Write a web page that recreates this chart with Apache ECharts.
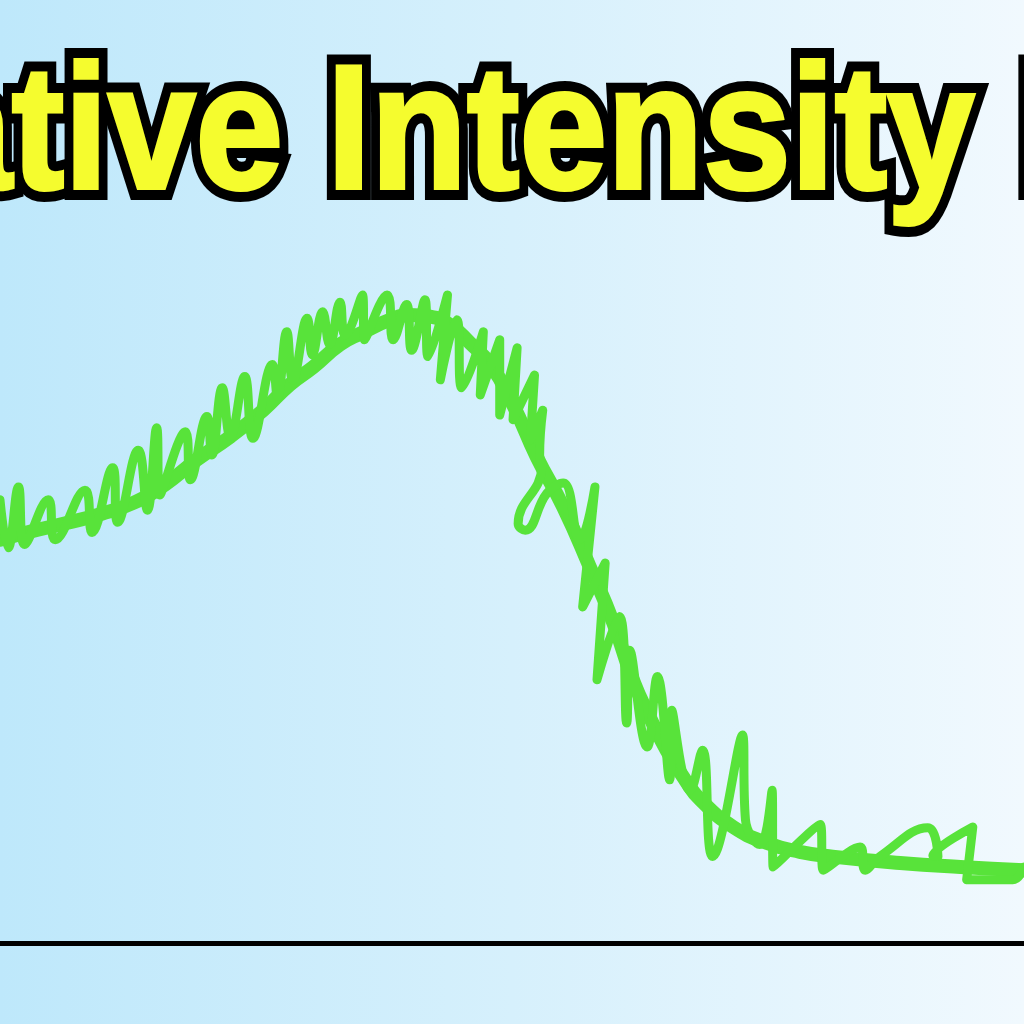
<!DOCTYPE html>
<html>
<head>
<meta charset="utf-8">
<script src="https://cdn.jsdelivr.net/npm/echarts@6/dist/echarts.min.js"></script>
<style>html,body{margin:0;padding:0;}#c{width:1024px;height:1024px;}</style>
</head>
<body>
<div id="c"></div>
<script>
// Title (clipped at both edges in the reference)
const titleText = 'Relative Intensity Map';

// Smooth trend curve: [position, relative intensity]
const trendX = [0, 2.9, 6.5, 9.8, 13.0, 16.1, 19.2, 22.5, 25.7, 28.3, 30.6, 33.2, 35.4, 38.1, 40.0, 42.0, 43.9, 45.9, 47.9, 50.1, 52.4, 55.0, 57.6, 59.9, 61.8, 63.5, 65.1, 66.9, 68.4, 71.6, 74.9, 78.1, 81.3, 87.9, 93.8, 100];
const trendY = [50.4, 51.4, 52.5, 53.6, 55.0, 57.3, 60.4, 63.3, 66.6, 69.8, 72.0, 74.8, 76.3, 77.9, 78.5, 78.3, 77.3, 75.0, 72.3, 67.3, 60.8, 54.5, 47.0, 40.0, 32.9, 28.1, 24.1, 20.4, 17.9, 14.5, 12.5, 11.4, 10.8, 10.0, 9.5, 9.1];

// Noisy hand-drawn measurement trace
const noisyX = [0, 0.8, 1.8, 2.4, 4.7, 5.4, 8.3, 9.0, 11.0, 11.5, 13.5, 14.4, 15.3, 15.6, 18.1, 18.6, 20.2, 20.7, 21.7, 22.5, 23.9, 24.7, 26.6, 27.1, 28.0, 28.6, 30.0, 30.5, 31.5, 32.2, 33.2, 33.7, 35.4, 35.6, 37.8, 38.4, 39.7, 40.2, 41.5, 41.8, 43.7, 43.0, 44.6, 45.1, 47.2, 46.9, 48.8, 48.8, 50.5, 50.1, 52.2, 51.8, 53.0, 52.7, 52.9, 50.6, 51.3, 53.4, 55.0, 56.6, 58.1, 56.9, 59.1, 58.3, 60.5, 61.2, 61.5, 63.2, 64.2, 65.4, 65.6, 67.4, 68.6, 69.6, 72.5, 72.8, 74.2, 75.4, 75.5, 80.1, 80.4, 84.0, 84.5, 85.9, 90.6, 91.6, 91.1, 95.0, 94.4, 98.9, 100];
const noisyY = [55.4, 49.4, 57.0, 49.8, 55.4, 50.4, 56.6, 51.3, 59.4, 52.6, 61.6, 54.1, 64.4, 56.0, 63.9, 57.9, 65.8, 61.0, 69.4, 63.3, 70.8, 63.1, 72.3, 68.3, 76.4, 70.4, 78.1, 73.5, 78.9, 74.8, 80.1, 76.0, 81.0, 75.4, 81.0, 75.4, 79.8, 74.1, 80.4, 73.3, 81.0, 70.4, 77.9, 69.4, 76.4, 68.5, 75.4, 66.0, 74.4, 65.4, 71.0, 62.9, 66.6, 61.0, 59.5, 52.4, 51.6, 56.2, 57.5, 50.4, 57.0, 42.0, 47.5, 32.9, 40.8, 27.5, 36.6, 24.5, 33.3, 20.4, 29.1, 19.1, 24.1, 10.8, 26.0, 15.4, 12.3, 19.1, 9.5, 14.8, 9.1, 12.0, 9.1, 10.8, 14.4, 10.8, 10.9, 14.5, 7.9, 7.9, 9.5];

const green = '#58e33a';
const yellow = '#f5fc2e';
const titleFont = 'bold 177px "Liberation Sans", Arial, sans-serif';
const chart = echarts.init(document.getElementById('c'), null, {renderer: 'canvas'});
chart.setOption({
  animation: false,
  graphic: [
    {type: 'rect', z: -10, silent: true, shape: {x: 0, y: 0, width: 1024, height: 1024},
     style: {fill: new echarts.graphic.LinearGradient(0, 0, 1, 0, [
       {offset: 0, color: '#bee8fb'}, {offset: 0.5, color: '#d6f0fc'}, {offset: 1, color: '#f1f9fe'}])}},
    {type: 'text', z: 100, x: -321, y: 139, scaleX: 0.89, originX: 0, originY: 0, silent: true,
     style: {x: 0, y: 0, text: titleText, font: titleFont,
       textAlign: 'left', textVerticalAlign: 'middle', align: 'left', verticalAlign: 'middle',
       fill: yellow, stroke: '#000', lineWidth: 24, lineJoin: 'round'}},
    {type: 'text', z: 101, x: -321, y: 139, scaleX: 0.89, originX: 0, originY: 0, silent: true,
     style: {x: 0, y: 0, text: titleText, font: titleFont,
       textAlign: 'left', textVerticalAlign: 'middle', align: 'left', verticalAlign: 'middle',
       fill: yellow, stroke: yellow, lineWidth: 4, lineJoin: 'round'}}
  ],
  grid: {left: 0, right: 0, top: 143, bottom: 81},
  xAxis: {type: 'value', min: 0, max: 100, axisLine: {show: true, onZero: false, lineStyle: {color: '#000', width: 5}},
          axisTick: {show: false}, axisLabel: {show: false}, splitLine: {show: false}},
  yAxis: {type: 'value', min: 0, max: 100, show: false, splitLine: {show: false}},
  series: [
    {type: 'line', data: trendX.map((x, i) => [x, trendY[i]]), smooth: 0.5, symbol: 'none',
     lineStyle: {color: green, width: 14, cap: 'round', join: 'round'}, z: 3},
    {type: 'line', data: noisyX.map((x, i) => [x, noisyY[i]]), smooth: 0.45, symbol: 'none',
     lineStyle: {color: green, width: 9, cap: 'round', join: 'round'}, z: 4}
  ]
});
</script>
</body>
</html>
